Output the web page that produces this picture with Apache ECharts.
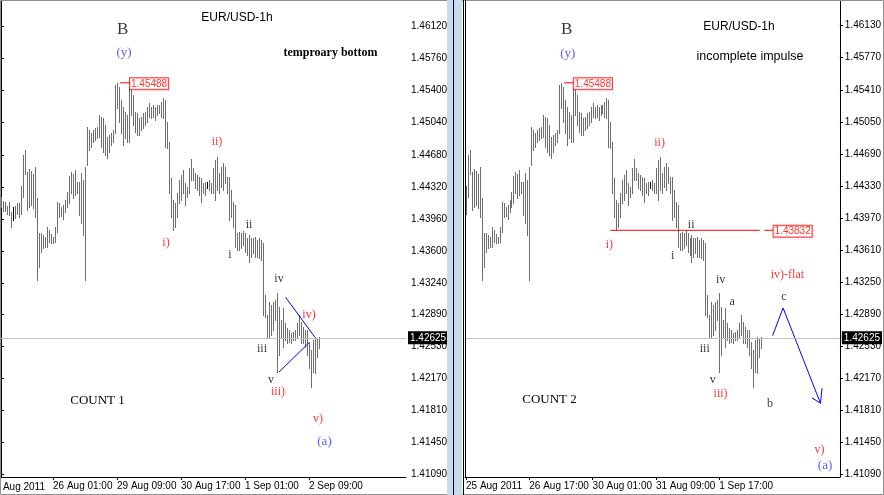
<!DOCTYPE html>
<html><head><meta charset="utf-8">
<script src="https://cdn.jsdelivr.net/npm/echarts@6/dist/echarts.min.js"></script>
<style>html,body{margin:0;padding:0;background:#fff}#c{width:884px;height:495px}</style>
</head><body><div id="c"></div>
<script>
// ---- hourly EUR/USD bars (index 0 = first visible hour of left panel) ----
const highs = [
1.4421,1.4416,1.4415,1.4411,1.4415,1.4404,1.4409,1.4411,1.4414,1.4414,
1.4433,1.4468,1.4473,1.4449,1.4452,1.4450,1.4446,1.4454,1.4420,1.4380,
1.4380,1.4378,1.4376,1.4387,1.4384,1.4379,1.4376,1.4387,1.4415,1.4414,
1.4409,1.4412,1.4417,1.4426,1.4444,1.4449,1.4446,1.4451,1.4437,1.4437,
1.4448,1.4440,1.4454,1.4499,1.4496,1.4492,1.4496,1.4498,1.4499,1.4513,
1.4510,1.4509,1.4501,1.4488,1.4490,1.4492,1.4496,1.4546,1.45488,1.4544,
1.4530,1.4522,1.4516,1.4513,1.4543,1.4543,1.4535,1.4516,1.4515,1.4509,
1.4510,1.4515,1.4516,1.4522,1.4526,1.4522,1.4524,1.4522,1.4524,1.4524,
1.4527,1.4532,1.4530,1.4505,1.4482,1.4442,1.4417,1.4414,1.4425,1.4440,
1.4445,1.4451,1.4436,1.4432,1.4453,1.4463,1.4453,1.4448,1.4445,1.4443,
1.4442,1.4436,1.4437,1.4437,1.4440,1.4436,1.4453,1.4462,1.4466,1.4448,
1.4454,1.4459,1.4454,1.4443,1.4443,1.4428,1.4415,1.4412,1.4380,1.4381,
1.4380,1.4382,1.4380,1.4375,1.4378,1.4375,1.4375,1.4376,1.4372,1.4375,
1.4372,1.4369,1.4311,1.4288,1.4303,1.4299,1.4303,1.4305,1.4313,1.4297,
1.4282,1.4296,1.4279,1.4273,1.4271,1.4268,1.4269,1.4271,1.4279,1.4288,
1.4280,1.4275,1.4271,1.4271,1.4258,1.4249,1.4260,1.4263,1.4262,1.4263
];
const lows = [
1.4409,1.4405,1.4405,1.4402,1.4400,1.4387,1.4395,1.4397,1.4402,1.4398,
1.4402,1.4421,1.4446,1.4406,1.4409,1.4412,1.4408,1.4398,1.4327,1.4342,
1.4359,1.4363,1.4364,1.4364,1.4370,1.4369,1.4369,1.4370,1.4381,1.4398,
1.4399,1.4396,1.4404,1.4409,1.4414,1.4425,1.4420,1.4423,1.4425,1.4400,
1.4391,1.4378,1.4327,1.4457,1.4473,1.4477,1.4482,1.4485,1.4487,1.4488,
1.4477,1.4471,1.4468,1.4464,1.4471,1.4479,1.4482,1.4492,1.4521,1.4505,
1.4492,1.4479,1.4487,1.4482,1.4482,1.4513,1.4501,1.4494,1.4490,1.4490,
1.4496,1.4498,1.4501,1.4505,1.4510,1.4509,1.4510,1.4507,1.4513,1.4515,
1.4510,1.4509,1.4477,1.4476,1.4425,1.4398,1.4384,1.4387,1.4398,1.4414,
1.4417,1.4425,1.4412,1.4421,1.4425,1.4440,1.4440,1.4431,1.4428,1.4423,
1.4415,1.4425,1.4423,1.4431,1.4428,1.4425,1.4425,1.4417,1.4428,1.4425,
1.4432,1.4428,1.4436,1.4425,1.4395,1.4398,1.4387,1.4364,1.4361,1.4361,
1.4363,1.4367,1.4359,1.4355,1.4348,1.4353,1.4358,1.4353,1.4353,1.4352,
1.4350,1.4288,1.4286,1.4262,1.4263,1.4266,1.4271,1.4282,1.4224,1.4243,
1.4263,1.4252,1.4260,1.4257,1.4258,1.4257,1.4260,1.4260,1.4263,1.4266,
1.4257,1.4257,1.4252,1.4243,1.4229,1.4207,1.4224,1.4223,1.4241,1.4251
];
const darkBars = [6, 103];
const lastPrice = 1.42625;
const peakPrice = 1.45488;
const levelPrice = 1.43832;

// ---- axis ticks ----
const leftTickIdx  = [26, 58, 90, 122, 154];
const leftTickText = ['26 Aug 01:00','29 Aug 09:00','30 Aug 17:00','1 Sep 01:00','2 Sep 09:00'];
const rightTickIdx  = [10, 42, 74, 106, 138];
const rightTickText = ['25 Aug 2011','26 Aug 17:00','30 Aug 01:00','31 Aug 09:00','1 Sep 17:00'];
const leftPriceTicks  = [1.46120,1.45760,1.45400,1.45040,1.44680,1.44320,1.43960,1.43600,1.43240,1.42890,1.42530,1.42170,1.41810,1.41450,1.41090];
const rightPriceTicks = [1.46130,1.45770,1.45410,1.45050,1.44690,1.44330,1.43970,1.43610,1.43250,1.42890,1.42530,1.42170,1.41810,1.41450,1.41090];

// ---- wave labels [bar index, price, text] ----
const leftDegree = [[60.85,1.4609,'B']];
const leftBlack = [[124,1.4389,'ii'],[114.5,1.4356,'i'],[139,1.4329,'iv'],[130.5,1.4250,'iii'],[135,1.4215,'v']];
const leftRed   = [[108,1.4482,'ii)'],[82.5,1.4369,'i)'],[154,1.4288,'iv)'],[138.5,1.4202,'iii)'],[158.5,1.4171,'v)']];
const leftBlue  = [[61.5,1.4583,'(y)'],[161.75,1.4146,'(a)']];
const rightDegree = [[60.85,1.4609,'B']];
const rightBlack = [[123.85,1.4389,'ii'],[114.5,1.4354,'i'],[138.7,1.4328,'iv'],[144.5,1.4303,'a'],[130.7,1.4250,'iii'],[134.8,1.4215,'v'],[163.7,1.4188,'b'],[170.7,1.4309,'c']];
const rightRed   = [[107.85,1.4481,'ii)'],[82.5,1.4367,'i)'],[138.7,1.4200,'iii)'],[172.5,1.4333,'iv)-flat'],[188.7,1.4137,'v)']];
const rightBlue  = [[61.5,1.4582,'(y)'],[191.5,1.4119,'(a)']];

// ---- drawn lines [bar index, price] ----
const triUpper = [[142.3,1.4308],[157,1.4263]];
const triLower = [[139,1.4224],[154,1.4257]];
const projPath = [[165,1.4265],[170.3,1.4296],[189.2,1.4189]];
const projHead = [[184.9,1.4195],[189.2,1.4189],[190,1.4206]];
const peakLeader = [[59.5,peakPrice],[64.5,peakPrice]];
const levelLine = [[83,levelPrice],[158.5,levelPrice]];
const levelLeader = [[160.85,levelPrice],[165.35,levelPrice]];

const SANS = '"Liberation Sans", Arial, sans-serif';
const SERIF = '"Liberation Serif", "Times New Roman", serif';
const yMin = 1.41062, yMax = 1.46418;

const bars = highs.map((h, i) => [i, h, lows[i]]);

function renderBar(params, api) {
  const i = api.value(0);
  const p1 = api.coord([i, api.value(1)]);
  const p2 = api.coord([i, api.value(2)]);
  const x = Math.round(p1[0]) + 0.5;
  return {type: 'line', shape: {x1: x, y1: Math.round(p1[1]), x2: x, y2: Math.round(p2[1]) + 1},
    style: {stroke: darkBars.indexOf(i) >= 0 ? '#000' : '#6e6e6e', lineWidth: 1}};
}

function barSeries(g) {
  return {type: 'custom', xAxisIndex: g, yAxisIndex: g, renderItem: renderBar, data: bars,
    clip: true, z: 3, silent: true, animation: false};
}
function priceLine(g) {
  return {type: 'line', xAxisIndex: g, yAxisIndex: g, data: [], z: 1, silent: true,
    markLine: {silent: true, symbol: ['none','none'], animation: false, precision: 5,
      lineStyle: {color: '#c0c0c0', type: 'solid', width: 1},
      label: {position: 'end', formatter: lastPrice.toFixed(5), color: '#fff', backgroundColor: '#000',
        padding: [2,2,1,2], fontSize: 10, fontFamily: SANS, distance: 2},
      data: [{yAxis: lastPrice}]}};
}
function labels(g, arr, color, size, weight) {
  return {type: 'scatter', xAxisIndex: g, yAxisIndex: g, data: arr, symbolSize: 0, silent: true, z: 5,
    itemStyle: {color: 'transparent'}, animation: false,
    label: {show: true, position: 'inside', formatter: p => p.value[2], color: color,
      fontFamily: SERIF, fontSize: size, fontWeight: weight || 'normal'}};
}
function poly(g, pts, color) {
  return {type: 'line', xAxisIndex: g, yAxisIndex: g, data: pts, symbol: 'none', silent: true, z: 4,
    lineStyle: {color: color, width: 1}, animation: false};
}
function priceBox(g, pt) {
  return {type: 'scatter', xAxisIndex: g, yAxisIndex: g, data: [pt], symbolSize: 0, silent: true, z: 5,
    itemStyle: {color: 'transparent'}, animation: false,
    label: {show: true, position: 'right', distance: 0, offset: [0, 1], formatter: p => p.value[1].toFixed(5),
      color: '#ff0000', backgroundColor: '#fff', borderColor: '#ff0000', borderWidth: 1,
      padding: [1,1,0,1], fontFamily: SANS, fontSize: 10}};
}
function xAxis(g, min, max, idx, txt) {
  return {type: 'value', gridIndex: g, min: min, max: max, splitLine: {show: false},
    axisLine: {show: true, lineStyle: {color: '#000', width: 1}},
    axisTick: {show: true, customValues: idx, length: 3, lineStyle: {color: '#000'}},
    axisLabel: {show: true, customValues: idx, align: 'left', margin: 4, color: '#000',
      fontFamily: SANS, fontSize: 10, formatter: v => txt[idx.indexOf(v)] || ''}};
}
function yAxis(g, ticks) {
  return {type: 'value', gridIndex: g, position: 'right', min: yMin, max: yMax, splitLine: {show: false},
    axisLine: {show: true, lineStyle: {color: '#000', width: 1}},
    axisTick: {show: true, customValues: ticks, length: 3, lineStyle: {color: '#000'}},
    axisLabel: {show: true, customValues: ticks, margin: 5, color: '#000',
      fontFamily: SANS, fontSize: 10, formatter: v => v.toFixed(5)}};
}

const chart = echarts.init(document.getElementById('c'), null, {renderer: 'canvas'});
chart.setOption({
  animation: false,
  backgroundColor: '#fff',
  grid: [{left: 0, top: 0, width: 406, height: 477}, {left: 465, top: 0, width: 379, height: 477}],
  xAxis: [xAxis(0, -0.5, 202.5, leftTickIdx, leftTickText), xAxis(1, 9.5, 199, rightTickIdx, rightTickText)],
  yAxis: [yAxis(0, leftPriceTicks), yAxis(1, rightPriceTicks)],
  series: [
    priceLine(0), priceLine(1), barSeries(0), barSeries(1),
    poly(0, triUpper, '#0000ff'), poly(0, triLower, '#0000ff'),
    poly(1, projPath, '#0000ff'), poly(1, projHead, '#0000ff'),
    poly(0, peakLeader, '#ff0000'), poly(1, peakLeader, '#ff0000'),
    poly(1, levelLine, '#ff0000'), poly(1, levelLeader, '#ff0000'),
    priceBox(0, [64.5, peakPrice]), priceBox(1, [64.5, peakPrice]), priceBox(1, [165.5, levelPrice]),
    labels(0, leftDegree, '#000', 17), labels(1, rightDegree, '#000', 17),
    labels(0, leftBlack, '#000', 12), labels(0, leftRed, '#ff0000', 12), labels(0, leftBlue, '#3333ff', 13),
    labels(1, rightBlack, '#000', 12), labels(1, rightRed, '#ff0000', 12), labels(1, rightBlue, '#3333ff', 13)
  ],
  graphic: [
    {type: 'rect', shape: {x: 0.5, y: 0.5, width: 883, height: 494}, style: {fill: 'none', stroke: '#909090', lineWidth: 1}, z: 10},
    {type: 'rect', shape: {x: 447, y: 0, width: 15, height: 495}, style: {fill: '#c8dcf0'}, z: 10},
    {type: 'line', shape: {x1: 453.5, y1: 0, x2: 453.5, y2: 495}, style: {stroke: '#000', lineWidth: 1}, z: 11},
    {type: 'line', shape: {x1: 463.5, y1: 0, x2: 463.5, y2: 495}, style: {stroke: '#000', lineWidth: 1}, z: 11},
    {type: 'line', shape: {x1: 465.5, y1: 0, x2: 465.5, y2: 477}, style: {stroke: '#000', lineWidth: 1}, z: 11},
    {type: 'text', x: 237, y: 18, style: {text: 'EUR/USD-1h', font: '12px ' + SANS, fill: '#000', textAlign: 'center', textVerticalAlign: 'middle'}, z: 10},
    {type: 'text', x: 739, y: 27, style: {text: 'EUR/USD-1h', font: '12px ' + SANS, fill: '#000', textAlign: 'center', textVerticalAlign: 'middle'}, z: 10},
    {type: 'text', x: 330.5, y: 53, style: {text: 'temproary bottom', font: 'bold 12px ' + SERIF, fill: '#000', textAlign: 'center', textVerticalAlign: 'middle'}, z: 10},
    {type: 'text', x: 750, y: 57, style: {text: 'incomplete impulse', font: '12.5px ' + SANS, fill: '#000', textAlign: 'center', textVerticalAlign: 'middle'}, z: 10},
    {type: 'text', x: 97.5, y: 401, style: {text: 'COUNT 1', font: '13px ' + SERIF, fill: '#000', textAlign: 'center', textVerticalAlign: 'middle'}, z: 10},
    {type: 'text', x: 549.5, y: 400, style: {text: 'COUNT 2', font: '13px ' + SERIF, fill: '#000', textAlign: 'center', textVerticalAlign: 'middle'}, z: 10},
    {type: 'text', x: -11, y: 487, style: {text: '25 Aug 2011', font: '10px ' + SANS, fill: '#000', textAlign: 'left', textVerticalAlign: 'middle'}, z: 10}
  ]
});
</script>
</body></html>
